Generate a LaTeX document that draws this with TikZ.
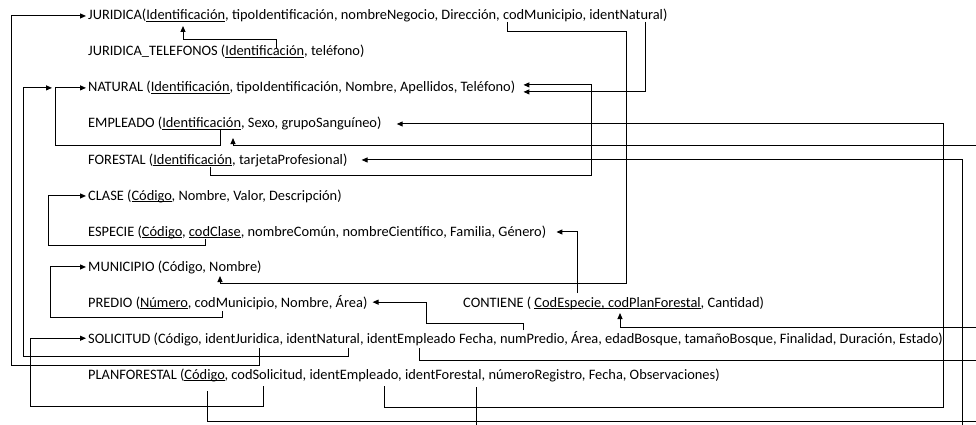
\documentclass[tikz,border=0pt]{standalone}
\usepackage{fontspec}
\setmainfont{Carlito}
\usepackage{tikz}
\usetikzlibrary{arrows.meta}
\newcommand{\pk}[1]{\setbox0\hbox{#1}\rlap{\rule[-1.8pt]{\wd0}{0.7pt}}#1}

\begin{document}
\begin{tikzpicture}[x=1pt, y=-1pt,
    rel/.style={anchor=base west, inner xsep=2pt, inner ysep=1pt, font=\fontsize{14.4}{17}\selectfont},
    fk/.style={line width=1pt, -{Triangle[length=6pt, width=5pt]}}]
                \useasboundingbox (0,0) rectangle (976,425);
                \clip (0,0) rectangle (976,425);
                \node[rel] (jur) at (86,20) {JURIDICA(\pk{Identificación}, tipoIdentificación, nombreNegocio, Dirección, codMunicipio, identNatural)};
                \node[rel] (jtel) at (86,56) {JURIDICA\_TELEFONOS (\pk{Identificación}, teléfono)};
                \node[rel] (nat) at (86,92) {NATURAL (\pk{Identificación}, tipoIdentificación, Nombre, Apellidos, Teléfono)};
                \node[rel] (emp) at (86,128) {EMPLEADO (\pk{Identificación}, Sexo, grupoSanguíneo)};
                \node[rel] (for) at (86,164) {FORESTAL (\pk{Identificación}, tarjetaProfesional)};
                \node[rel] (cla) at (86,200) {CLASE (\pk{Código}, Nombre, Valor, Descripción)};
                \node[rel] (esp) at (86,236) {ESPECIE (\pk{Código}, \pk{codClase}, nombreComún, nombreCientífico, Familia, Género)};
                \node[rel] (mun) at (86,271) {MUNICIPIO (Código, Nombre)};
                \node[rel] (pre) at (86,307) {PREDIO (\pk{Número}, codMunicipio, Nombre, Área)};
                \node[rel] (con) at (461,307) {CONTIENE ( \pk{CodEspecie, codPlanForestal}, Cantidad)};
                \node[rel] (sol) at (86,343) {SOLICITUD (Código, identJuridica, identNatural, identEmpleado Fecha, numPredio, Área, edadBosque, tamañoBosque, Finalidad, Duración, Estado)};
                \node[rel] (plan) at (86,379) {PLANFORESTAL (\pk{Código}, codSolicitud, identEmpleado, identForestal, númeroRegistro, Fecha, Observaciones)};
                \coordinate (jur-id) at (183,26);
                \coordinate (jur-mun) at (507,22);
                \coordinate (jur-nat) at (645,22);
                \coordinate (jtel-id) at (276,48);
                \coordinate (emp-id) at (220,129);
                \coordinate (emp-in) at (233,138);
                \coordinate (for-id) at (210,167);
                \coordinate (esp-cla) at (205,239);
                \coordinate (mun-in) at (220,276);
                \coordinate (pre-mun) at (222,311);
                \coordinate (con-esp) at (577,293);
                \coordinate (con-plan) at (620,313);
                \coordinate (sol-jur) at (259,348);
                \coordinate (sol-nat) at (348,348);
                \coordinate (sol-emp) at (419,348);
                \coordinate (sol-pre) at (523,330);
                \coordinate (plan-id) at (207,391);
                \coordinate (plan-sol) at (263,386);
                \coordinate (plan-emp) at (384,386);
                \coordinate (plan-for) at (476,387);
                \draw[fk] (jtel-id) |- (183,40) -- (jur-id);
                \draw[fk] (sol-jur) |- (11,365) |- (jur.west);
                \draw[fk] (sol-nat) |- (23,356) |- ([xshift=-34pt]nat.west);
                \draw[fk] (emp-id) |- (55,145) |- (nat.west);
                \draw[fk] (jur-nat) |- ([xshift=6pt, yshift=-4pt]nat.east);
                \draw[fk] (for-id) |- (591,175) |- ([xshift=6pt, yshift=3pt]nat.east);
                \draw[fk] (jur-mun) |- (626,32) |- (220,283) -- (mun-in);
                \draw[fk] (plan-emp) |- (943,407) |- ([xshift=13pt]emp.east);
                \draw[fk] (sol-emp) |- (990,360) |- (233,145) -- (emp-in);
                \draw[fk] (plan-for) |- (962,440) |- ([xshift=12pt]for.east);
                \draw[fk] (esp-cla) |- (48,245) |- (cla.west);
                \draw[fk] (pre-mun) |- (50,317) |- (mun.west);
                \draw[fk] (plan-sol) |- (30,406) |- (sol.west);
                \draw[fk] (sol-pre) |- (426,323) |- ([xshift=3pt]pre.east);
                \draw[fk] (con-esp) |- ([xshift=8pt]esp.east);
                \draw[fk] (plan-id) |- (990,421) |- (620,327) -- (con-plan);
            \end{tikzpicture}
\end{document}
